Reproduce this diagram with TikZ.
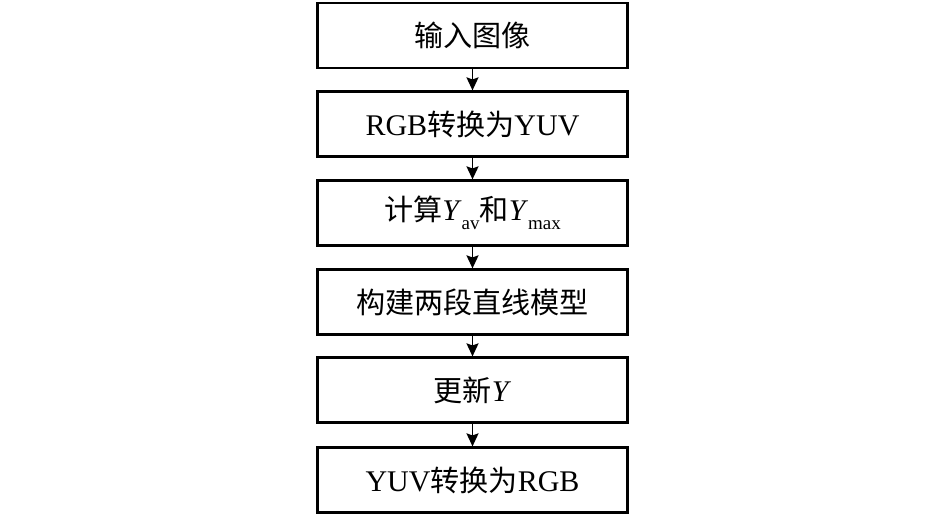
\documentclass[tikz,border=0pt]{standalone}
\usepackage{fontspec}
\setmainfont{Liberation Serif}
\newfontfamily\cjk{Noto Sans CJK SC}[Scale=0.97]
\usetikzlibrary{arrows.meta}
\newcommand{\zh}[1]{{\cjk #1}}
\newcommand{\sub}[1]{\raisebox{-0.28em}{\fontsize{19pt}{19pt}\selectfont #1}}
\tikzset{
  stepbox/.style={draw=black, line width=2.2pt, minimum width=310pt, minimum height=65pt, inner sep=0pt,
    font=\fontsize{30pt}{34pt}\selectfont},
  flow/.style={line width=1.6pt, -{Stealth[length=13pt,width=12pt,inset=2pt]}}
}
\begin{document}
\begin{tikzpicture}[x=1pt,y=1pt]
\useasboundingbox (0,0) rectangle (945,516);
\node[stepbox] (n1) at (472.5,480.5) {\zh{输入图像}};
\node[stepbox] (n2) at (472.5,392) {RGB\zh{转换为}YUV};
\node[stepbox] (n3) at (472.5,303) {\zh{计算}\textit{Y}\sub{av}\zh{和}\textit{Y}\sub{max}};
\node[stepbox] (n4) at (472.5,214) {\zh{构建两段直线模型}};
\node[stepbox] (n5) at (472.5,126) {\zh{更新}\textit{Y}};
\node[stepbox] (n6) at (472.5,36) {YUV\zh{转换为}RGB};
\draw[flow] (n1) -- (n2);
\draw[flow] (n2) -- (n3);
\draw[flow] (n3) -- (n4);
\draw[flow] (n4) -- (n5);
\draw[flow] (n5) -- (n6);
\end{tikzpicture}
\end{document}
